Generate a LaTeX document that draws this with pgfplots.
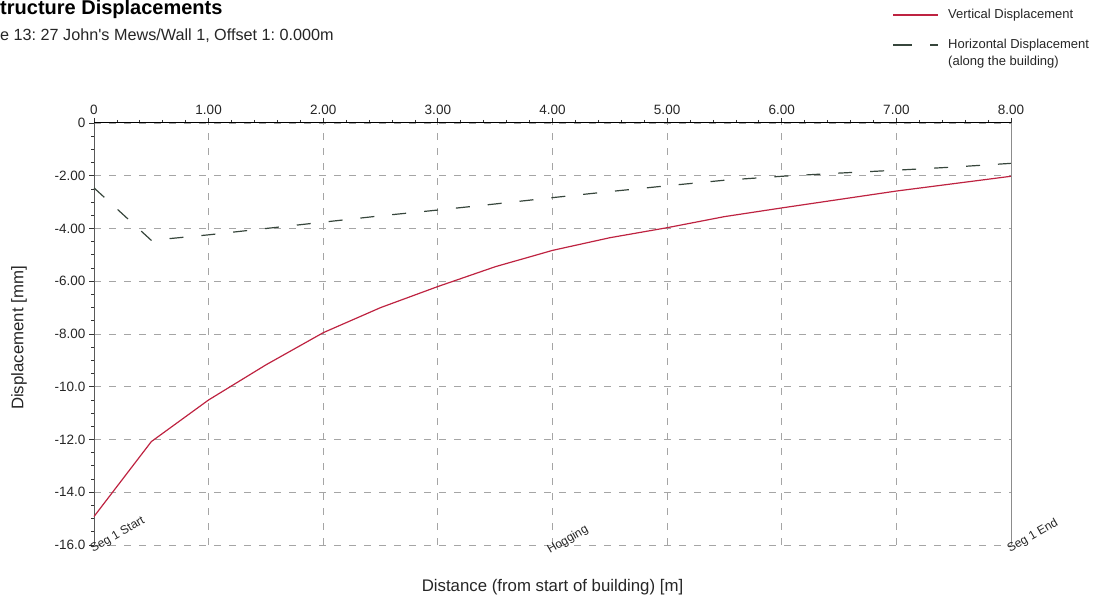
\documentclass[border=0pt]{standalone}
\usepackage{fontspec}
\setmainfont{Liberation Sans}
\usepackage{pgfplots}
\pgfplotsset{compat=1.18}
\definecolor{vertred}{RGB}{190,35,65}
\definecolor{horzgrey}{RGB}{55,70,60}
\definecolor{gridgrey}{RGB}{165,165,165}
\frenchspacing

\begin{document}
\begin{tikzpicture}
\useasboundingbox (0,0) rectangle (1103bp,610bp);
\begin{axis}[
    at={(94bp,65bp)}, anchor=south west,
    scale only axis, width=917bp, height=422bp,
    xmin=0, xmax=8, ymin=-16, ymax=0,
    axis x line=top, axis y line=left,
    x axis line style={-, black, line width=1bp},
    y axis line style={-, black!65, line width=1bp},
    xtick={0,1,2,3,4,5,6,7,8},
    xticklabels={0,1.00,2.00,3.00,4.00,5.00,6.00,7.00,8.00},
    ytick={0,-2,-4,-6,-8,-10,-12,-14,-16},
    yticklabels={0,-2.00,-4.00,-6.00,-8.00,-10.0,-12.0,-14.0,-16.0},
    minor x tick num=4, minor y tick num=3,
    tick align=outside, major tick length=5bp, minor tick length=3bp,
    tick style={black!80, line width=0.8bp},
    grid=major,
    major grid style={gridgrey, dash pattern=on 7bp off 8bp, line width=0.8bp},
    ticklabel style={font=\fontsize{13.5bp}{16bp}\selectfont, text=black!85},
    clip=false,
]
% vertical displacement
\addplot[vertred, line width=1.2bp, mark=none] table {
x y
0 -14.92
0.5 -12.08
1 -10.5
1.5 -9.17
2 -7.95
2.5 -7.0
3 -6.2
3.5 -5.45
4 -4.83
4.5 -4.35
5 -3.97
5.5 -3.55
6 -3.22
6.5 -2.9
7 -2.58
7.5 -2.3
8 -2.02
};
% horizontal displacement (along the building)
\addplot[horzgrey, line width=1.2bp, dash pattern=on 14bp off 18bp, mark=none] table {
x y
0 -2.46
0.5 -4.45
1 -4.24
1.5 -4.0
2 -3.76
2.5 -3.52
3 -3.3
3.5 -3.07
4 -2.83
4.5 -2.6
5 -2.38
5.5 -2.17
6 -2.02
6.5 -1.9
7 -1.79
7.5 -1.67
8 -1.53
};
\draw[black!45, line width=1bp] (axis cs:8,0) -- (axis cs:8,-16);
\node[rotate=30, anchor=base west, inner sep=0, font=\fontsize{12bp}{14bp}\selectfont, text=black!85]
    at ([xshift=-1bp, yshift=-8bp]axis cs:0,-16) {Seg 1 Start};
\node[rotate=30, anchor=base west, inner sep=0, font=\fontsize{12bp}{14bp}\selectfont, text=black!85]
    at ([xshift=2bp, yshift=-9bp]axis cs:3.96,-16) {Hogging};
\node[rotate=30, anchor=base west, inner sep=0, font=\fontsize{12bp}{14bp}\selectfont, text=black!85]
    at ([xshift=-1bp, yshift=-8bp]axis cs:8,-16) {Seg 1 End};
\end{axis}

% titles
\node[anchor=base west, inner sep=0, font=\bfseries\fontsize{20bp}{23bp}\selectfont]
    at (-13.3bp,595bp) {Structure Displacements};
\node[anchor=base west, inner sep=0, font=\fontsize{16.2bp}{19bp}\selectfont, text=black!85]
    at (0bp,569bp) {e 13: 27 John\textquotesingle s Mews/Wall 1, Offset 1: 0.000m};

% axis labels
\node[font=\fontsize{16.8bp}{19bp}\selectfont, text=black!85] at (552.5bp,23bp)
    {Distance (from start of building) [m]};
\node[rotate=90, font=\fontsize{16.8bp}{19bp}\selectfont, text=black!85] at (19bp,272bp)
    {Displacement [mm]};

% legend
\draw[vertred, line width=1.2bp] (893bp,595bp) -- (938bp,595bp);
\node[anchor=west, inner sep=0, font=\fontsize{13bp}{15bp}\selectfont, text=black!85]
    at (948bp,595bp) {Vertical Displacement};
\draw[horzgrey, line width=1.2bp, dash pattern=on 19bp off 18bp] (893bp,565bp) -- (938bp,565bp);
\node[anchor=west, inner sep=0, font=\fontsize{13bp}{15bp}\selectfont, text=black!85]
    at (948bp,565bp) {Horizontal Displacement};
\node[anchor=west, inner sep=0, font=\fontsize{13bp}{15bp}\selectfont, text=black!85]
    at (948bp,548bp) {(along the building)};
\end{tikzpicture}
\end{document}
